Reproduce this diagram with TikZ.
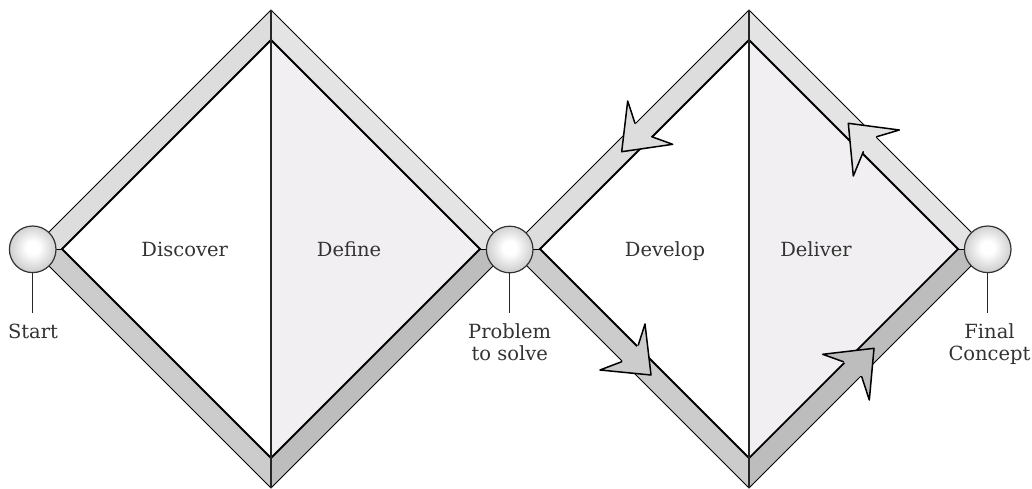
\documentclass[tikz,border=0pt]{standalone}
\usepackage{fontspec}
\setmainfont{DejaVu Serif}
\definecolor{bandUL}{HTML}{DDDDDD}
\definecolor{bandUR}{HTML}{E4E4E4}
\definecolor{bandLL}{HTML}{CCCCCC}
\definecolor{bandLR}{HTML}{BDBDBD}
\definecolor{innerR}{HTML}{F1EFF1}
\definecolor{txt}{HTML}{333333}
\pgfdeclareradialshading{sphere}{\pgfpoint{0bp}{2bp}}{color(0bp)=(white); color(7bp)=(white); color(50bp)=(black!45); color(60bp)=(black!45)}
\tikzset{
  outerline/.style={line width=0.9pt, black},
  innerline/.style={line width=1.8pt, black, line join=miter},
  midline/.style={line width=1.3pt, black!85},
  arrowline/.style={line width=1.5pt, black, line join=round, line cap=round},
  hub/.style={circle, minimum size=46.6pt, inner sep=0pt, draw=black!80, line width=1.2pt, shading=sphere},
  pinline/.style={line width=1.3pt, black!85},
  phase/.style={font=\fontsize{19.5}{22}\selectfont, text=txt, anchor=base, inner sep=0pt},
  caption/.style={font=\fontsize{19.5}{22}\selectfont, text=txt, anchor=north, align=center, inner sep=0pt}
}
\begin{document}
\begin{tikzpicture}[x=1pt,y=-1pt]
\useasboundingbox (0,0) rectangle (1032,488);
\fill[white] (0,0) rectangle (1032,488);
\foreach \cx in {271,749}{
  % band faces
  \fill[bandUL] ({\cx-239},249) -- (\cx,10) -- (\cx,40) -- ({\cx-209},249) -- cycle;
  \fill[bandUR] (\cx,10) -- ({\cx+239},249) -- ({\cx+209},249) -- (\cx,40) -- cycle;
  \fill[bandLL] ({\cx-239},249) -- ({\cx-209},249) -- (\cx,458) -- (\cx,488) -- cycle;
  \fill[bandLR] (\cx,488) -- (\cx,458) -- ({\cx+209},249) -- ({\cx+239},249) -- cycle;
  % inner halves
  \fill[white] (\cx,40) -- ({\cx-209},249) -- (\cx,458) -- cycle;
  \fill[innerR] (\cx,40) -- ({\cx+209},249) -- (\cx,458) -- cycle;
  % outlines
  \draw[outerline] ({\cx-239},249) -- (\cx,10) -- ({\cx+239},249) -- (\cx,488) -- cycle;
  \draw[outerline] ({\cx-239},249) -- ({\cx-209},249);
  \draw[outerline] ({\cx+239},249) -- ({\cx+209},249);
  \draw[innerline] (\cx,40) -- ({\cx+209},249) -- (\cx,458) -- ({\cx-209},249) -- cycle;
  \draw[midline] (\cx,10) -- (\cx,488);
}
% arrowheads on the second diamond
\fill[bandUL] (621.7,151.7) -- (627.7,101) -- (635,123.3) -- (651.7,136.7) -- (672.7,144.3) -- cycle;
\draw[arrowline] (635,123.3) -- (627.7,101) -- (621.7,151.7) -- (672.7,144.3) -- (651.7,136.7);
\fill[bandLL] (651,375) -- (645,324) -- (638.3,345) -- (621.7,361.7) -- (600,370) -- cycle;
\draw[arrowline] (638.3,345) -- (645,324) -- (651,375) -- (600,370) -- (621.7,361.7);
\fill[bandUR] (848.3,123.3) -- (899.3,130) -- (876.7,136.7) -- (863.3,151.7) -- (853.3,176) -- cycle;
\draw[arrowline] (876.7,136.7) -- (899.3,130) -- (848.3,123.3) -- (853.3,176) -- (863.3,151.7);
\fill[bandLR] (874,348.3) -- (822.7,354.3) -- (843.3,361.7) -- (861.7,376.7) -- (869.3,400) -- cycle;
\draw[arrowline] (843.3,361.7) -- (822.7,354.3) -- (874,348.3) -- (869.3,400) -- (861.7,376.7);
% hubs
\node[hub] (start) at (32.7,249.3) {};
\node[hub] (problem) at (509.7,249.5) {};
\node[hub] (final) at (987.7,249.3) {};
\coordinate (startpin) at (32.7,313);
\coordinate (problempin) at (509.7,313);
\coordinate (finalpin) at (987.7,313);
\draw[pinline] (start.south) -- (startpin);
\draw[pinline] (problem.south) -- (problempin);
\draw[pinline] (final.south) -- (finalpin);
% captions
\node[phase] (discover) at (184.7,256) {Discover};
\node[phase] (define) at (349,256) {Define};
\node[phase] (develop) at (665,256) {Develop};
\node[phase] (deliver) at (816,256) {Deliver};
\node[phase] (startlbl) at (33,338.3) {Start};
\node[caption] (problemlbl) at (509.7,323.3) {Problem\\to solve};
\node[caption] (finallbl) at (989.5,323.3) {Final\\Concept};
\end{tikzpicture}
\end{document}
